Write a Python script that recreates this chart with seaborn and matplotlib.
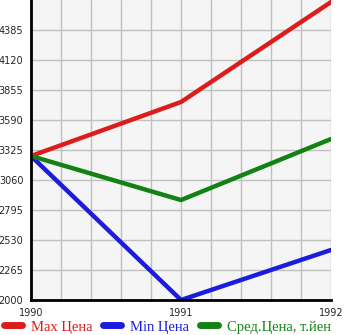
import matplotlib
matplotlib.use("Agg")
import matplotlib.pyplot as plt
import seaborn as sns
import pandas as pd
import numpy as np

years = [1990, 1991, 1992]
max_price = [3272, 3749, 4632]
min_price = [3272, 2000, 2442]
avg_price = [3272, 2883, 3422]
series_names = ["Max Цена", "Min Цена", "Сред.Цена, т.йен"]
colors = ["#dd1c1c", "#1c1cdd", "#128212"]
yticks = [2000, 2265, 2530, 2795, 3060, 3325, 3590, 3855, 4120, 4385]

df = pd.DataFrame({
    "year": years * 3,
    "value": max_price + min_price + avg_price,
    "series": [series_names[0]] * 3 + [series_names[1]] * 3 + [series_names[2]] * 3,
})

sns.set_style("white")
fig = plt.figure(figsize=(3.45, 3.35), dpi=100)
ax = fig.add_axes([31/345, 35/335, 300/345, 300/335])
ax.set_facecolor("#f5f5f5")

sns.lineplot(data=df, x="year", y="value", hue="series", palette=colors,
             linewidth=3.2, ax=ax, legend=False)

ax.set_xlim(1990, 1992)
ax.set_ylim(2000, 4650)
ax.set_yticks(yticks)
ax.set_yticklabels([str(t) for t in yticks], fontsize=7, family="DejaVu Sans")
xt = np.round(np.arange(1990, 1992.01, 0.2), 1)
ax.set_xticks(xt)
ax.set_xticklabels([str(int(t)) if abs(t - round(t)) < 1e-6 else "" for t in xt],
                   fontsize=7, family="DejaVu Sans")
ax.grid(True, color="#c0c0c0", linewidth=1)
ax.set_axisbelow(True)
ax.tick_params(axis="both", direction="out", length=4, width=1, color="black", pad=1.5)
for s in ["top", "right"]:
    ax.spines[s].set_visible(False)
for s in ["left", "bottom"]:
    ax.spines[s].set_color("black")
    ax.spines[s].set_linewidth(2)
ax.set_xlabel("")
ax.set_ylabel("")

from matplotlib.lines import Line2D
handles = [Line2D([], [], color=c, linewidth=5, solid_capstyle="round") for c in colors]
leg = fig.legend(handles, series_names, loc="lower left", bbox_to_anchor=(0.006, 0.0),
                 ncol=3, frameon=False, handlelength=1.25, handletextpad=0.6,
                 columnspacing=0.75, borderpad=0.1, borderaxespad=0,
                 prop={"family": "Liberation Serif", "size": 10.5})
for t, c in zip(leg.get_texts(), colors):
    t.set_color(c)

fig.savefig("out.png", dpi=100)
